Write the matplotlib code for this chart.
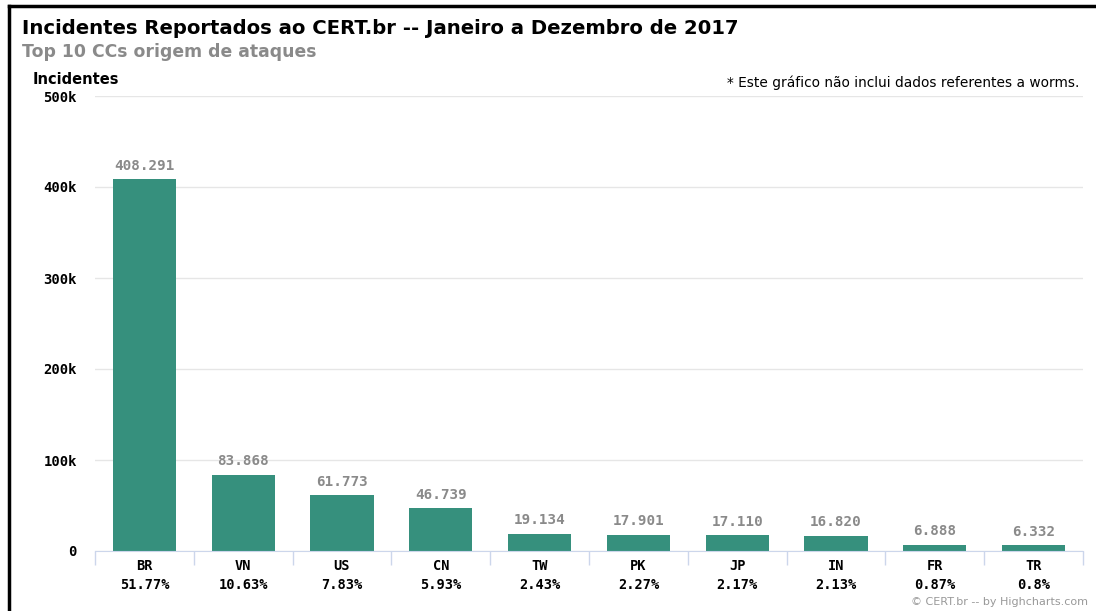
import numpy as np
import matplotlib.pyplot as plt
from matplotlib.ticker import FixedLocator

countries = ['BR', 'VN', 'US', 'CN', 'TW', 'PK', 'JP', 'IN', 'FR', 'TR']
percents = ['51.77%', '10.63%', '7.83%', '5.93%', '2.43%', '2.27%', '2.17%', '2.13%', '0.87%', '0.8%']
incidents = [408291, 83868, 61773, 46739, 19134, 17901, 17110, 16820, 6888, 6332]
yticks = [0, 100000, 200000, 300000, 400000, 500000]
ytick_labels = ['0', '100k', '200k', '300k', '400k', '500k']

W, H = 1096, 611
fig = plt.figure(figsize=(W / 100, H / 100), dpi=100)
ax = fig.add_axes([95 / W, 1 - 551 / H, (1083 - 95) / W, (551 - 96) / H])

x = np.arange(len(countries))
ax.bar(x, incidents, width=0.64, color='#36907d', zorder=3)

for xi, v in zip(x, incidents):
    lbl = f"{v:,}".replace(',', '.')
    ax.annotate(lbl, (xi, v), xytext=(0, 4.5), textcoords='offset points',
                ha='center', va='bottom', family='DejaVu Sans Mono',
                fontweight='bold', fontsize=10.3, color='#8a8a8a')

ax.set_xlim(-0.5, len(countries) - 0.5)
ax.set_ylim(0, 500000)
ax.set_yticks(yticks)
ax.set_yticklabels(ytick_labels, family='DejaVu Sans Mono', fontweight='bold', fontsize=10)
ax.grid(axis='y', color='#e6e6e6', linewidth=1, zorder=0)

ax.set_xticks(x)
ax.set_xticklabels([f"{c}\n{p}" for c, p in zip(countries, percents)],
                   family='DejaVu Sans Mono', fontweight='bold', fontsize=9.8,
                   linespacing=1.45)
ax.xaxis.set_minor_locator(FixedLocator(np.arange(-0.5, len(countries), 1)))
ax.tick_params(axis='x', which='major', length=0, pad=6)
ax.tick_params(axis='x', which='minor', length=10, color='#ccd6eb', width=1)
ax.tick_params(axis='y', length=0, pad=13)

for s in ['top', 'right', 'left']:
    ax.spines[s].set_visible(False)
ax.spines['bottom'].set_color('#ccd6eb')
ax.spines['bottom'].set_zorder(4)

fig.text(22 / W, 1 - 29 / H, 'Incidentes Reportados ao CERT.br -- Janeiro a Dezembro de 2017',
         fontsize=14.1, fontweight='bold', va='center', ha='left')
fig.text(22 / W, 1 - 52 / H, 'Top 10 CCs origem de ataques',
         fontsize=12.4, fontweight='bold', color='#8a8a8a', va='center', ha='left')
fig.text(33 / W, 1 - 80 / H, 'Incidentes', fontsize=10.5, fontweight='bold', va='center', ha='left')
fig.text(1079 / W, 1 - 83 / H, '* Este gráfico não inclui dados referentes a worms.',
         fontsize=9.9, va='center', ha='right')
fig.text(1088 / W, 1 - 602 / H, '© CERT.br -- by Highcharts.com',
         fontsize=8, color='#999999', va='center', ha='right')

# black frame on the top and left edges
fig.add_artist(plt.Line2D([9 / W, 9 / W], [0, 1 - 6 / H], color='black', linewidth=2.5))
fig.add_artist(plt.Line2D([9 / W, 1], [1 - 6 / H, 1 - 6 / H], color='black', linewidth=2.5))

fig.savefig('out.png', dpi=100)
